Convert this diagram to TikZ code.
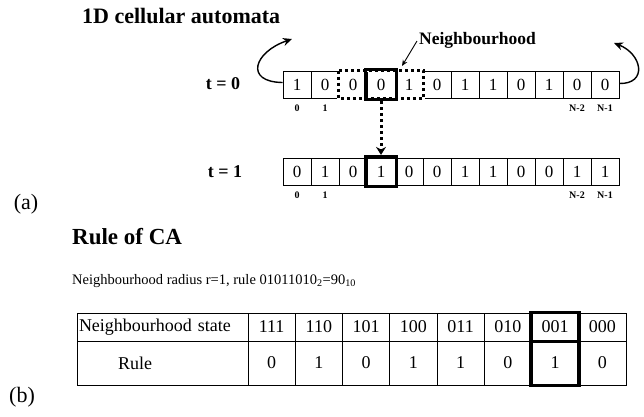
\documentclass[tikz,border=0pt]{standalone}
\usepackage{fontspec}
\setmainfont{Liberation Serif}
\usetikzlibrary{arrows.meta}
\newcommand\fsz[1]{\fontsize{#1}{#1}\selectfont}
\tikzset{
  cell/.style={draw, line width=0.8pt, minimum width=28pt, minimum height=27pt,
    inner sep=0pt, font=\fsz{17}},
  idx/.style={font=\bfseries\fsz{10}, inner sep=0pt},
  timelbl/.style={font=\bfseries\fsz{18}, inner sep=0pt},
  hotcell/.style={draw, line width=3.2pt, minimum width=31pt, minimum height=30pt,
    inner sep=0pt},
  nbhd/.style={line width=3pt, dash pattern=on 3pt off 3pt},
  wrap/.style={-{Stealth[length=9pt,width=8pt]}, line width=1.4pt},
  tcell/.style={draw, line width=0.8pt, inner sep=0pt, font=\fsz{18}},
  hot/.style={line width=3.5pt},
  heading/.style={font=\bfseries\fsz{23}, inner sep=0pt, anchor=west},
  panel/.style={font=\fsz{22}, inner sep=0pt},
}
\begin{document}
\begin{tikzpicture}[x=1pt,y=-1pt]
\useasboundingbox (0,0) rectangle (644,416);

% ---------- (a) one-dimensional automaton ----------
\node[font=\bfseries\fsz{22}, inner sep=0pt, anchor=west] (title) at (82,16) {1D cellular automata};

% row at t = 0
\node[timelbl] (t0) at (223,84) {t = 0};
\foreach \v [count=\i from 0] in {1,0,0,0,1,0,1,1,0,1,0,0}
  \node[cell] (r0c\i) at (297+28*\i,84.5) {\v};
% row at t = 1
\node[timelbl] (t1) at (225,172) {t = 1};
\foreach \v [count=\i from 0] in {0,1,0,1,0,0,1,1,0,0,1,1}
  \node[cell] (r1c\i) at (297+28*\i,171.5) {\v};

% cell indices
\foreach \r/\y in {0/108,1/195} {
  \node[idx] (i\r a) at (297,\y) {0};
  \node[idx] (i\r b) at (325,\y) {1};
  \node[idx] (i\r c) at (577,\y) {N-2};
  \node[idx] (i\r d) at (605,\y) {N-1};
}

% neighbourhood of cell 3 (dotted) and the cell itself (bold)
\draw[white, line width=3pt] (r0c2.north west) rectangle (r0c4.south east);
\draw[nbhd] (r0c2.north west) rectangle (r0c4.south east);
\node[hotcell] (hot0) at (r0c3) {};
\node[hotcell] (hot1) at (r1c3) {};
\draw[nbhd, -{Stealth[length=8pt,width=10pt]}] (hot0.south) -- (hot1.north);

% label of the neighbourhood
\node[font=\bfseries\fsz{17.5}, inner sep=0pt, anchor=west] (nb) at (419,40) {Neighbourhood};
\coordinate (nbtip) at (402,66);
\draw[-{Stealth[length=6pt,width=5pt]}, line width=0.9pt] ([xshift=-2pt,yshift=-1pt]nb.west) -- (nbtip);

% periodic boundary
\coordinate (wrapL) at (292,39);
\coordinate (wrapR) at (614,43);
\draw[wrap] ([yshift=2pt]r0c0.west) .. controls (244,82) and (254,52) .. (wrapL);
\draw[wrap] ([yshift=1pt]r0c11.east) .. controls (648,84) and (642,54) .. (wrapR);

\node[panel] (pa) at (26,204) {(a)};

% ---------- (b) rule table ----------
\node[heading] (rh) at (72,237) {Rule of CA};
\node[font=\fsz{14.5}, inner sep=0pt, anchor=west] (rinfo) at (72,281)
  {Neighbourhood radius r=1, rule 01011010\textsubscript{2}=90\textsubscript{10}};

\node[tcell, text width=167pt, align=left, inner xsep=2pt, minimum height=28pt]
  (h0) at (162.5,327) {Neighbourhood state};
\node[tcell, text width=167pt, align=left, inner xsep=2pt, minimum height=44pt]
  (q) at (162.5,363) {\hspace*{39pt}Rule};
\foreach \st/\rv [count=\i from 0] in {111/0,110/1,101/0,100/1,011/1,010/0,001/1,000/0} {
  \node[tcell, minimum width=47.25pt, minimum height=28pt] (s\i) at (271.6+47.25*\i,327) {\st};
  \node[tcell, minimum width=47.25pt, minimum height=44pt] (v\i) at (271.6+47.25*\i,363) {\rv};
}
\draw[hot] (s6.north west) rectangle (v6.south east);
\draw[hot] (s6.south west) -- (s6.south east);

\node[panel] (pb) at (22,397) {(b)};
\end{tikzpicture}
\end{document}
